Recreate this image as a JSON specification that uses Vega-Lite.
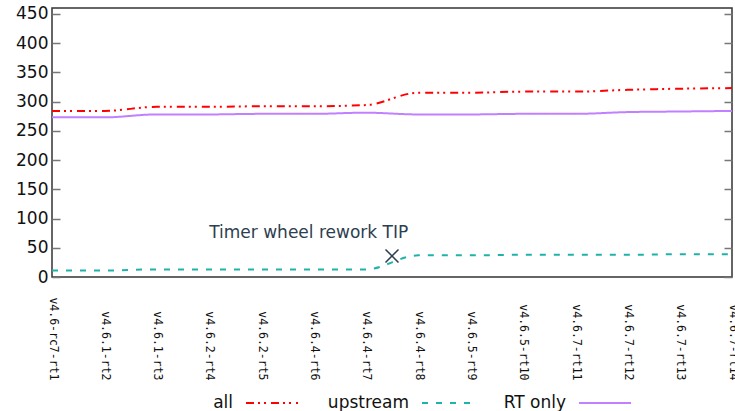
{
  "$schema": "https://vega.github.io/schema/vega-lite/v6.json",
  "width": 680,
  "height": 269,
  "autosize": "none",
  "padding": {"left": 52, "top": 8, "right": 3, "bottom": 134},
  "background": "white",
  "config": {"view": {"stroke": "#333333", "strokeWidth": 1.5}, "font": "DejaVu Sans"},
  "datasets": {
    "series": [
      {"idx": 0, "release": "v4.6-rc7-rt1", "series": "all", "value": 284},
      {"idx": 1, "release": "v4.6.1-rt2", "series": "all", "value": 284},
      {"idx": 2, "release": "v4.6.1-rt3", "series": "all", "value": 291},
      {"idx": 3, "release": "v4.6.2-rt4", "series": "all", "value": 291},
      {"idx": 4, "release": "v4.6.2-rt5", "series": "all", "value": 292},
      {"idx": 5, "release": "v4.6.4-rt6", "series": "all", "value": 292},
      {"idx": 6, "release": "v4.6.4-rt7", "series": "all", "value": 294},
      {"idx": 7, "release": "v4.6.4-rt8", "series": "all", "value": 315},
      {"idx": 8, "release": "v4.6.5-rt9", "series": "all", "value": 315},
      {"idx": 9, "release": "v4.6.5-rt10", "series": "all", "value": 317},
      {"idx": 10, "release": "v4.6.7-rt11", "series": "all", "value": 317},
      {"idx": 11, "release": "v4.6.7-rt12", "series": "all", "value": 320},
      {"idx": 12, "release": "v4.6.7-rt13", "series": "all", "value": 322},
      {"idx": 13, "release": "v4.6.7-rt14", "series": "all", "value": 323},
      {"idx": 0, "release": "v4.6-rc7-rt1", "series": "upstream", "value": 11},
      {"idx": 1, "release": "v4.6.1-rt2", "series": "upstream", "value": 11},
      {"idx": 2, "release": "v4.6.1-rt3", "series": "upstream", "value": 13},
      {"idx": 3, "release": "v4.6.2-rt4", "series": "upstream", "value": 13},
      {"idx": 4, "release": "v4.6.2-rt5", "series": "upstream", "value": 13},
      {"idx": 5, "release": "v4.6.4-rt6", "series": "upstream", "value": 13},
      {"idx": 6, "release": "v4.6.4-rt7", "series": "upstream", "value": 13},
      {"idx": 7, "release": "v4.6.4-rt8", "series": "upstream", "value": 37},
      {"idx": 8, "release": "v4.6.5-rt9", "series": "upstream", "value": 37},
      {"idx": 9, "release": "v4.6.5-rt10", "series": "upstream", "value": 38},
      {"idx": 10, "release": "v4.6.7-rt11", "series": "upstream", "value": 38},
      {"idx": 11, "release": "v4.6.7-rt12", "series": "upstream", "value": 38},
      {"idx": 12, "release": "v4.6.7-rt13", "series": "upstream", "value": 39},
      {"idx": 13, "release": "v4.6.7-rt14", "series": "upstream", "value": 39},
      {"idx": 0, "release": "v4.6-rc7-rt1", "series": "RT only", "value": 273},
      {"idx": 1, "release": "v4.6.1-rt2", "series": "RT only", "value": 273},
      {"idx": 2, "release": "v4.6.1-rt3", "series": "RT only", "value": 278},
      {"idx": 3, "release": "v4.6.2-rt4", "series": "RT only", "value": 278},
      {"idx": 4, "release": "v4.6.2-rt5", "series": "RT only", "value": 279},
      {"idx": 5, "release": "v4.6.4-rt6", "series": "RT only", "value": 279},
      {"idx": 6, "release": "v4.6.4-rt7", "series": "RT only", "value": 281},
      {"idx": 7, "release": "v4.6.4-rt8", "series": "RT only", "value": 278},
      {"idx": 8, "release": "v4.6.5-rt9", "series": "RT only", "value": 278},
      {"idx": 9, "release": "v4.6.5-rt10", "series": "RT only", "value": 279},
      {"idx": 10, "release": "v4.6.7-rt11", "series": "RT only", "value": 279},
      {"idx": 11, "release": "v4.6.7-rt12", "series": "RT only", "value": 282},
      {"idx": 12, "release": "v4.6.7-rt13", "series": "RT only", "value": 283},
      {"idx": 13, "release": "v4.6.7-rt14", "series": "RT only", "value": 284}
    ],
    "marker": [{"idx": 6.5, "value": 36}],
    "note": [{"idx": 6.81, "value": 76, "label": "Timer wheel rework TIP"}]
  },
  "encoding": {
    "x": {
      "field": "idx",
      "type": "quantitative",
      "scale": {"domain": [0, 13], "nice": false, "zero": false},
      "axis": {
        "title": null,
        "values": [0, 1, 2, 3, 4, 5, 6, 7, 8, 9, 10, 11, 12, 13],
        "labelExpr": "['v4.6-rc7-rt1','v4.6.1-rt2','v4.6.1-rt3','v4.6.2-rt4','v4.6.2-rt5','v4.6.4-rt6','v4.6.4-rt7','v4.6.4-rt8','v4.6.5-rt9','v4.6.5-rt10','v4.6.7-rt11','v4.6.7-rt12','v4.6.7-rt13','v4.6.7-rt14'][datum.value]",
        "ticks": false,
        "domain": false,
        "grid": false,
        "labelAngle": 90,
        "labelAlign": "right",
        "labelBaseline": "middle",
        "labelPadding": 103,
        "labelFlush": false,
        "labelOverlap": false,
        "labelFont": "DejaVu Sans Mono",
        "labelFontSize": 11.5,
        "labelColor": "#111111"
      }
    }
  },
  "layer": [
    {
      "data": {"name": "series"},
      "mark": {"type": "line", "interpolate": "monotone", "strokeWidth": 2},
      "encoding": {
        "y": {
          "field": "value",
          "type": "quantitative",
          "scale": {"domain": [0, 460], "nice": false, "zero": true},
          "axis": {
            "orient": "left",
            "title": null,
            "values": [0, 50, 100, 150, 200, 250, 300, 350, 400, 450],
            "tickSize": -8,
            "tickColor": "#777777",
            "tickWidth": 1.5,
            "domain": false,
            "grid": false,
            "labelPadding": 12,
            "labelFont": "DejaVu Sans",
            "labelFontSize": 17,
            "labelColor": "#111111"
          }
        },
        "color": {
          "field": "series",
          "type": "nominal",
          "scale": {"domain": ["all", "upstream", "RT only"], "range": ["#ff0000", "#20b2aa", "#c080ff"]},
          "legend": {
            "orient": "none",
            "legendX": 193,
            "legendY": 368,
            "direction": "horizontal",
            "title": null,
            "symbolType": "stroke",
            "symbolSize": 2704,
            "symbolStrokeWidth": 2,
            "labelAlign": "right",
            "labelOffset": -66,
            "columnPadding": 25,
            "gridAlign": "each",
            "labelFont": "DejaVu Sans",
            "labelFontSize": 17,
            "labelColor": "#111111",
            "labelLimit": 300
          }
        },
        "strokeDash": {
          "field": "series",
          "type": "nominal",
          "scale": {"domain": ["all", "upstream", "RT only"], "range": [[8, 4, 2, 4, 2, 5], [6, 8], [1, 0]]}
        }
      }
    },
    {
      "data": {"name": "series"},
      "mark": {"type": "point", "opacity": 0},
      "encoding": {
        "y": {
          "field": "value",
          "type": "quantitative",
          "scale": {"domain": [0, 460], "nice": false, "zero": true},
          "axis": {
            "orient": "right",
            "title": null,
            "values": [0, 50, 100, 150, 200, 250, 300, 350, 400, 450],
            "tickSize": -8,
            "tickColor": "#777777",
            "tickWidth": 1.5,
            "domain": false,
            "grid": false,
            "labels": false
          }
        }
      }
    },
    {
      "data": {"name": "marker"},
      "mark": {"type": "point", "shape": "M-1,-1L1,1M-1,1L1,-1", "size": 169, "filled": false, "stroke": "#2c3e50", "strokeWidth": 1.5, "opacity": 1},
      "encoding": {
        "y": {"field": "value", "type": "quantitative", "scale": {"domain": [0, 460], "nice": false, "zero": true}, "axis": null}
      }
    },
    {
      "data": {"name": "note"},
      "mark": {"type": "text", "align": "right", "baseline": "middle", "font": "DejaVu Sans", "fontSize": 17, "color": "#2c3e50"},
      "encoding": {
        "y": {"field": "value", "type": "quantitative", "scale": {"domain": [0, 460], "nice": false, "zero": true}, "axis": null},
        "text": {"field": "label"}
      }
    }
  ],
  "resolve": {"axis": {"y": "independent"}}
}
